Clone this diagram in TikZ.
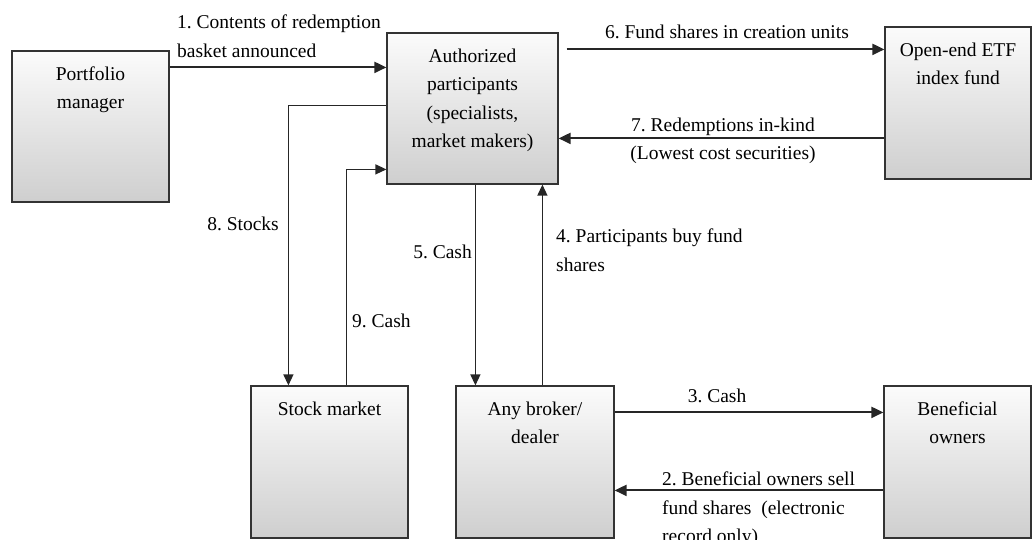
\documentclass[tikz,border=0pt]{standalone}
\usepackage{fontspec}
\setmainfont{Liberation Serif}
\usetikzlibrary{arrows.meta}
\frenchspacing

\begin{document}
\begin{tikzpicture}[x=1pt, y=-1pt, font=\fontsize{19.5}{28.5}\selectfont,
    box/.style={draw=black!80, line width=1.2pt, top color=gray!3, bottom color=gray!38,
      minimum width=#1, minimum height=152, inner sep=0pt},
    boxtext/.style={anchor=north, align=center, inner sep=0pt, yshift=-16pt},
    flow/.style={-{Triangle[length=12pt,width=11pt]}, line width=2pt, black!85},
    link/.style={-{Triangle[length=11pt,width=10pt]}, line width=1.3pt, black!85},
    lbl/.style={inner sep=0pt, align=left}]

        % Page frame
        \useasboundingbox (0,0) rectangle (1032,540);

        % Boxes
        \node[box=157, minimum height=151, label={[boxtext]north:{Portfolio\\manager}}] (pm) at (90.5,126.5) {};
        \node[box=171, minimum height=151, label={[boxtext]north:{Authorized\\participants\\(specialists,\\market makers)}}] (ap) at (472.5,108.5) {};
        \node[box=146, label={[boxtext]north:{Open-end ETF\\index fund}}] (etf) at (958,103) {};
        \node[box=157, label={[boxtext]north:{Stock market}}] (sm) at (329.5,462) {};
        \node[box=158, label={[boxtext]north:{Any broker/\\dealer}}] (bd) at (535,462) {};
        \node[box=147, label={[boxtext]north:{Beneficial\\owners}}] (bo) at (957.5,462) {};

        % Horizontal flows
        \draw[flow] ([yshift=-17pt]pm.north east) -- ([yshift=-35pt]ap.north west);
        \draw[flow] ([xshift=8pt,yshift=-17pt]ap.north east) -- ([yshift=-23pt]etf.north west);
        \draw[flow] ([yshift=-112pt]etf.north west) -- ([yshift=-106pt]ap.north east);
        \draw[flow] ([yshift=-27pt]bd.north east) -- ([yshift=-27pt]bo.north west);
        \draw[flow] ([yshift=-105pt]bo.north west) -- ([yshift=-105pt]bd.north east);

        % Vertical flows
        \draw[link] ([yshift=-73pt]ap.north west) -| ([xshift=38pt]sm.north west);
        \draw[link] ([xshift=96pt]sm.north west) |- ([yshift=-137pt]ap.north west);
        \draw[link] ([xshift=89pt]ap.south west) -- ([xshift=20pt]bd.north west);
        \draw[link] ([xshift=87pt]bd.north west) -- ([xshift=156pt]ap.south west);

        % Labels
        \node[lbl, anchor=north west] (t1) at (177,15) {1. Contents of redemption\\basket announced};
        \node[lbl, anchor=north west] (t2) at (662,471.7) {2. Beneficial owners sell\\fund shares\ \ (electronic\\record only)};
        \node[lbl, anchor=base] (t3) at (717,402) {3. Cash};
        \node[lbl, anchor=north west] (t4) at (556,228.7) {4. Participants buy fund\\shares};
        \node[lbl, anchor=base east] (t5) at (472,258) {5. Cash};
        \node[lbl, anchor=base] (t6) at (727,39) {6. Fund shares in creation units};
        \node[lbl, align=center, anchor=north] (t7) at (723,117.7) {7. Redemptions in-kind\\(Lowest cost securities)};
        \node[lbl, anchor=base east] (t8) at (279,230) {8. Stocks};
        \node[lbl, anchor=base west] (t9) at (352,327) {9. Cash};

      \end{tikzpicture}
\end{document}
